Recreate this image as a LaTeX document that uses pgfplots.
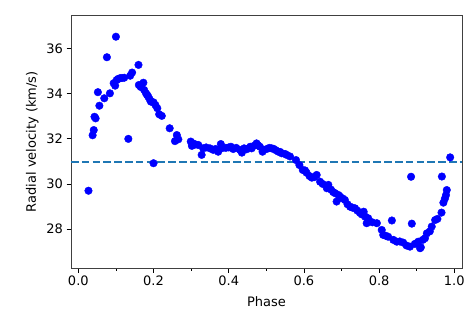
\documentclass[border=0pt]{standalone}
\usepackage{fontspec}
\setmainfont{DejaVu Sans}
\usepackage{pgfplots}
\pgfplotsset{compat=1.18}
\usepackage{pgfplotstable}
\pgfplotstableread{
ph rv
0.027 29.70
0.038 32.16
0.041 32.39
0.043 32.98
0.046 32.91
0.052 34.07
0.056 33.47
0.069 33.80
0.076 35.62
0.084 34.02
0.094 34.47
0.098 34.36
0.100 36.53
0.102 34.61
0.106 34.66
0.111 34.69
0.116 34.70
0.122 34.71
0.133 32.00
0.138 34.80
0.143 34.94
0.160 35.28
0.161 34.39
0.166 34.30
0.173 34.49
0.175 34.17
0.180 34.02
0.183 33.95
0.186 33.87
0.190 33.75
0.193 33.65
0.200 33.62
0.200 30.92
0.205 33.50
0.210 33.36
0.215 33.09
0.222 33.02
0.243 32.47
0.257 31.90
0.262 32.17
0.266 31.98
0.299 31.88
0.302 31.69
0.305 31.80
0.312 31.75
0.319 31.73
0.328 31.29
0.332 31.58
0.340 31.62
0.350 31.58
0.359 31.51
0.365 31.55
0.372 31.43
0.379 31.77
0.381 31.58
0.392 31.60
0.400 31.62
0.406 31.65
0.412 31.55
0.420 31.60
0.430 31.51
0.435 31.39
0.441 31.58
0.448 31.54
0.457 31.65
0.461 31.58
0.468 31.70
0.474 31.80
0.478 31.72
0.483 31.65
0.490 31.43
0.492 31.51
0.501 31.55
0.508 31.60
0.514 31.58
0.519 31.56
0.525 31.50
0.532 31.43
0.537 31.42
0.541 31.36
0.550 31.33
0.554 31.29
0.563 31.22
0.579 31.06
0.588 30.84
0.597 30.62
0.603 30.60
0.607 30.50
0.615 30.35
0.621 30.28
0.627 30.30
0.634 30.40
0.643 30.10
0.650 30.00
0.661 29.81
0.665 29.96
0.672 29.75
0.678 29.64
0.683 29.59
0.687 29.22
0.692 29.51
0.696 29.44
0.703 29.36
0.709 29.29
0.716 29.10
0.723 28.99
0.729 28.95
0.736 28.92
0.742 28.82
0.749 28.72
0.754 28.65
0.759 28.77
0.763 28.55
0.767 28.26
0.771 28.48
0.782 28.30
0.794 28.26
0.807 27.96
0.811 27.74
0.818 27.70
0.824 27.66
0.834 28.38
0.838 27.52
0.847 27.44
0.855 27.45
0.864 27.40
0.873 27.27
0.882 27.22
0.885 30.32
0.887 28.24
0.895 27.34
0.900 27.37
0.904 27.44
0.909 27.15
0.911 27.19
0.916 27.52
0.922 27.59
0.927 27.81
0.935 27.90
0.940 28.11
0.949 28.40
0.955 28.45
0.966 28.73
0.967 30.33
0.971 29.17
0.975 29.35
0.978 29.51
0.980 29.73
0.989 31.18
}\rvdata
\definecolor{mplblue}{HTML}{1F77B4}
\begin{document}
\begin{tikzpicture}[font=\fontsize{13bp}{15.6bp}\selectfont]
\begin{axis}[
  scale only axis,
  width=391bp, height=253bp,
  xmin=-0.0195, xmax=1.0205,
  ymin=26.26, ymax=37.48,
  xtick={0,0.2,0.4,0.6,0.8,1},
  minor xtick={0.1,0.3,0.5,0.7,0.9},
  ytick={28,30,32,34,36},
  tick align=outside, tick pos=left,
  major tick length=4.5bp, minor tick length=2.6bp,
  every tick/.style={black, line width=0.8bp},
  axis line style={line width=1bp, black!75},
  /pgf/number format/assume math mode=true,
  xticklabel style={/pgf/number format/.cd, fixed, fixed zerofill, precision=1},
  xticklabel={\pgfmathprintnumber[fixed, fixed zerofill, precision=1, assume math mode=true]{\tick}},
  xlabel={Phase},
  ylabel={Radial velocity (km/s)},
  xlabel style={at={(axis description cs:0.5,-0.132)}, anchor=center},
  ylabel style={at={(axis description cs:-0.099,0.5)}, anchor=center},
  clip=false,
]
\addplot[only marks, mark=*, mark size=3.8bp, color=blue, mark options={draw=none, fill=blue}] table[x=ph, y=rv] {\rvdata};
\addplot[mplblue, line width=1.9bp, dash pattern=on 7.5bp off 3.3bp] coordinates {(-0.0195,30.98) (1.0205,30.98)};
\end{axis}
\path ([shift={(-71bp,-47.7bp)}]current axis.south west) rectangle ([shift={(12bp,15.3bp)}]current axis.north east);
\end{tikzpicture}
\end{document}
